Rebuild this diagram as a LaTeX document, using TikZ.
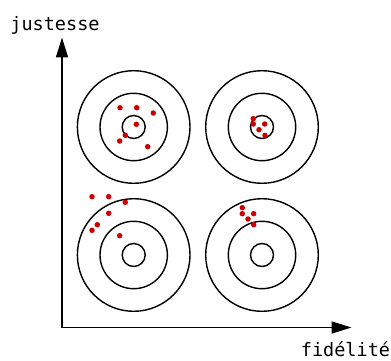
\documentclass[tikz,border=0pt]{standalone}
\usepackage{fontspec}
\newfontfamily\monofnt{DejaVu Sans Mono}
\usetikzlibrary{arrows.meta}
\definecolor{dotred}{RGB}{204,0,0}
\tikzset{
  ring/.style={draw=black, line width=1.4pt},
  axis/.style={line width=1.6pt, -{Triangle[length=20pt,width=12pt]}},
  shot/.style={circle, fill=dotred, inner sep=0pt, minimum size=5.5pt},
  lbl/.style={font=\monofnt\fontsize{18.5}{20}\selectfont, inner sep=0pt, anchor=base}
}
\begin{document}
\begin{tikzpicture}[x=1pt,y=-1pt]
\useasboundingbox (0,0) rectangle (391,361);
% targets
\foreach \cx/\cy [count=\i] in {133.7/127, 262/127, 133.7/255, 262/255}{
  \draw[ring] (\cx,\cy) circle (56.3);
  \draw[ring] (\cx,\cy) circle (33.7);
  \draw[ring] (\cx,\cy) circle (11.5);
}
% axes
\coordinate (o) at (62,327.5);
\coordinate (ytip) at (62,37.5);
\coordinate (xtip) at (351.5,327.5);
\draw[axis] (o) -- (ytip);
\draw[axis] (o) -- (xtip);
\node[lbl] (ylab) at (55,30.5) {justesse};
\node[lbl] (xlab) at (345.5,356.5) {fidélité};
% shots
\foreach \x/\y in {120/107.7, 136.7/107.7, 153.3/113, 136.3/124.3, 125.3/135.3, 119.7/141, 147.7/146.7,
                   253.3/118.7, 253.3/124, 264.7/124, 259/129.7, 265/135.3,
                   92/196.7, 108.7/196.7, 125.3/202.3, 108.7/213.3, 97.3/224.7, 92/230.3, 119.7/235.7,
                   242.3/207.7, 242.3/213.7, 253.7/213.7, 248/219, 253.7/224.7}{
  \node[shot] at (\x,\y) {};
}
\end{tikzpicture}
\end{document}
